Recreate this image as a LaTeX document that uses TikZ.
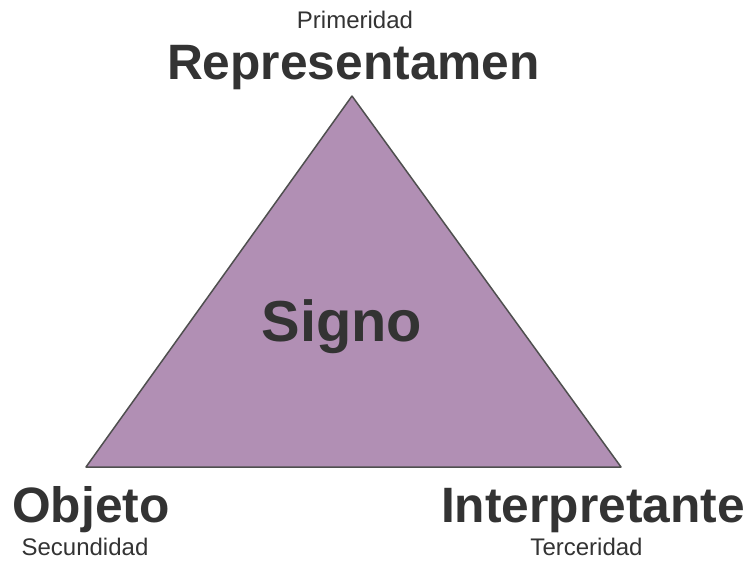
\documentclass[tikz,border=0pt]{standalone}
\usepackage{fontspec}
\setmainfont{Liberation Sans}
\definecolor{txt}{HTML}{333333}
\definecolor{tri}{HTML}{B18FB4}
\definecolor{edge}{HTML}{4F4F4F}
\begin{document}
\begin{tikzpicture}[x=1pt,y=-1pt,
  big/.style={font=\fontsize{49.7}{50}\selectfont\bfseries, text=txt, anchor=base, inner sep=0pt},
  small/.style={font=\fontsize{24}{24}\selectfont, text=txt, anchor=base, inner sep=0pt}]
\useasboundingbox (0,0) rectangle (747,560);
\coordinate (A) at (352,96);
\coordinate (B) at (86,467);
\coordinate (C) at (621,467);
\draw[fill=tri, draw=edge, line width=1.5pt, line join=round] (A) -- (B) -- (C) -- cycle;
\node[big, font=\fontsize{57.8}{58}\selectfont\bfseries] (signo) at (342,341) {Signo};
\node[small] (prim) at (355,28.5) {Primeridad};
\node[big] (rep) at (353.5,79.5) {Representamen};
\node[big] (obj) at (91,522) {Objeto};
\node[small] (sec) at (85,555) {Secundidad};
\node[big] (int) at (593,522) {Interpretante};
\node[small] (ter) at (586.5,555) {Terceridad};
\end{tikzpicture}
\end{document}
